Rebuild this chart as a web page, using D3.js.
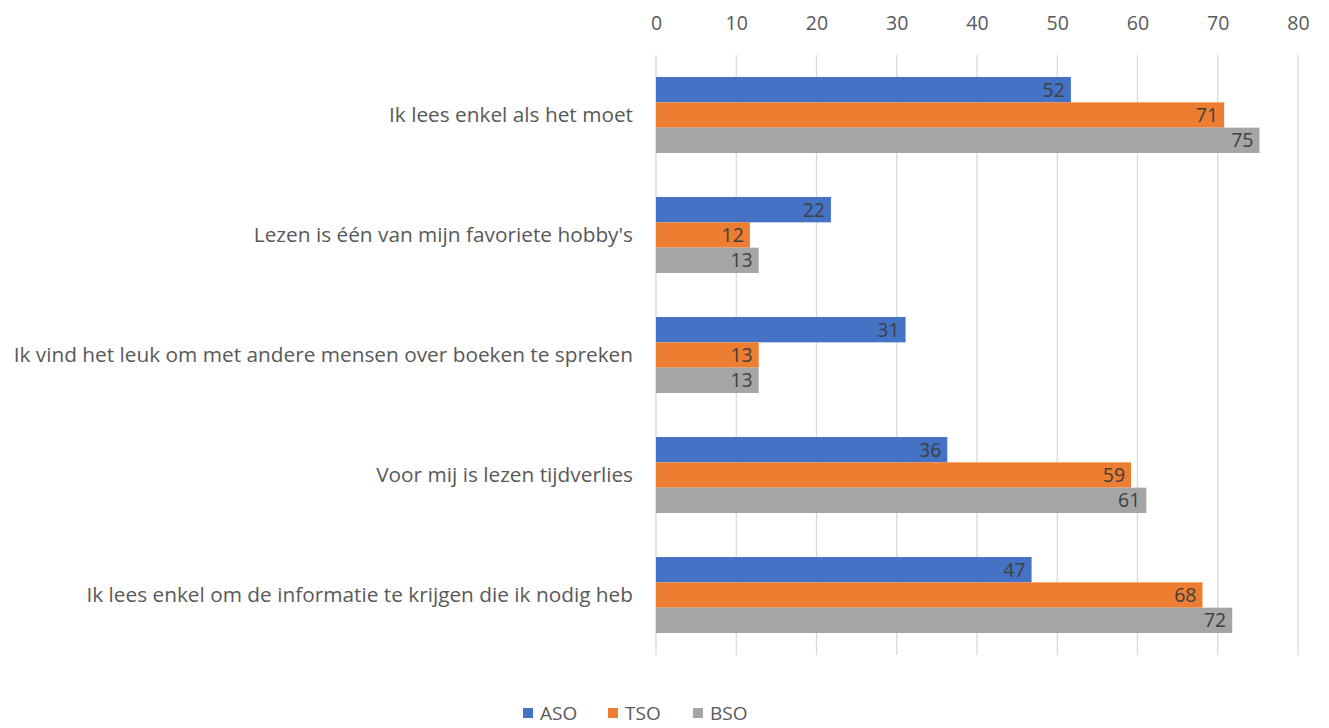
<!DOCTYPE html>
<html>
<head>
<meta charset="utf-8">
<script src="https://cdn.jsdelivr.net/npm/d3@7"></script>
<style>
  body { margin: 0; background: #fff; }
  text { font-family: "Open Sans", "Noto Sans", sans-serif; }
</style>
</head>
<body>
<div id="wrapper"></div>
<script>
// data (labels show rounded values)
const categories = [
  "Ik lees enkel als het moet",
  "Lezen is één van mijn favoriete hobby's",
  "Ik vind het leuk om met andere mensen over boeken te spreken",
  "Voor mij is lezen tijdverlies",
  "Ik lees enkel om de informatie te krijgen die ik nodig heb",
]
const seriesNames = ["ASO", "TSO", "BSO"]
const asoValues = [51.7, 21.8, 31.1, 36.3, 46.8]
const tsoValues = [70.8, 11.7, 12.8, 59.2, 68.1]
const bsoValues = [75.2, 12.8, 12.8, 61.1, 71.8]
const tickValues = [0, 10, 20, 30, 40, 50, 60, 70, 80]
const colors = ["#4472C4", "#ED7D31", "#A5A5A5"]

const seriesValues = [asoValues, tsoValues, bsoValues]
const dataset = categories.flatMap((c, i) =>
  seriesNames.map((s, j) => ({ category: c, series: s, value: seriesValues[j][i] }))
)

// dimensions
let dimensions = {
  width: 1329,
  height: 728,
  margin: { top: 55, right: 31, bottom: 73, left: 656 },
}
dimensions.boundedWidth = dimensions.width - dimensions.margin.left - dimensions.margin.right
dimensions.boundedHeight = dimensions.height - dimensions.margin.top - dimensions.margin.bottom

const wrapper = d3.select("#wrapper")
  .append("svg")
    .attr("width", dimensions.width)
    .attr("height", dimensions.height)

const bounds = wrapper.append("g")
  .attr("transform", `translate(${dimensions.margin.left}, ${dimensions.margin.top})`)

// scales
const xScale = d3.scaleLinear()
  .domain([0, 80])
  .range([0, dimensions.boundedWidth])

const yScale = d3.scaleBand()
  .domain(categories)
  .range([0, dimensions.boundedHeight])
  .paddingInner(0.367)
  .paddingOuter(0.1833)

const subScale = d3.scaleBand()
  .domain(seriesNames)
  .range([0, yScale.bandwidth()])

const colorScale = d3.scaleOrdinal()
  .domain(seriesNames)
  .range(colors)

// gridlines
bounds.append("g")
  .selectAll("line")
  .data(tickValues)
  .join("line")
    .attr("x1", d => xScale(d))
    .attr("x2", d => xScale(d))
    .attr("y1", 0)
    .attr("y2", dimensions.boundedHeight)
    .attr("stroke", "#d9d9d9")
    .attr("stroke-width", 1.3)

// top axis labels
const xAxis = bounds.append("g")
  .call(d3.axisTop(xScale).tickValues(tickValues).tickSize(0).tickPadding(25))
xAxis.select(".domain").remove()
xAxis.selectAll("text")
  .attr("fill", "#595959")
  .style("font-size", "19.5px")

// category labels
const yAxis = bounds.append("g")
  .call(d3.axisLeft(yScale).tickSize(0).tickPadding(23))
yAxis.select(".domain").remove()
yAxis.selectAll("text")
  .attr("fill", "#595959")
  .style("font-size", "20.8px")

// bars
const groups = bounds.selectAll(".bar")
  .data(dataset)
  .join("g")
    .attr("class", "bar")
    .attr("transform", d => `translate(0, ${yScale(d.category) + subScale(d.series)})`)

groups.append("rect")
    .attr("x", xScale(0))
    .attr("y", 0)
    .attr("width", d => xScale(d.value) - xScale(0))
    .attr("height", subScale.bandwidth())
    .attr("fill", d => colorScale(d.series))

const formatValue = d3.format(".0f")
groups.append("text")
    .attr("x", d => xScale(d.value) - 6)
    .attr("y", subScale.bandwidth() / 2)
    .attr("dy", "0.36em")
    .attr("text-anchor", "end")
    .attr("fill", "#404040")
    .style("font-size", "19.5px")
    .text(d => formatValue(d.value))

// legend
const legend = wrapper.append("g")
  .attr("transform", `translate(523, 713)`)
const legendItems = legend.selectAll("g")
  .data(seriesNames)
  .join("g")
    .attr("transform", (d, i) => `translate(${i * 85}, 0)`)
legendItems.append("rect")
    .attr("x", 0)
    .attr("y", -5)
    .attr("width", 10)
    .attr("height", 10)
    .attr("fill", d => colorScale(d))
legendItems.append("text")
    .attr("x", 17)
    .attr("dy", "0.36em")
    .attr("fill", "#595959")
    .style("font-size", "19px")
    .text(d => d)
</script>
</body>
</html>
